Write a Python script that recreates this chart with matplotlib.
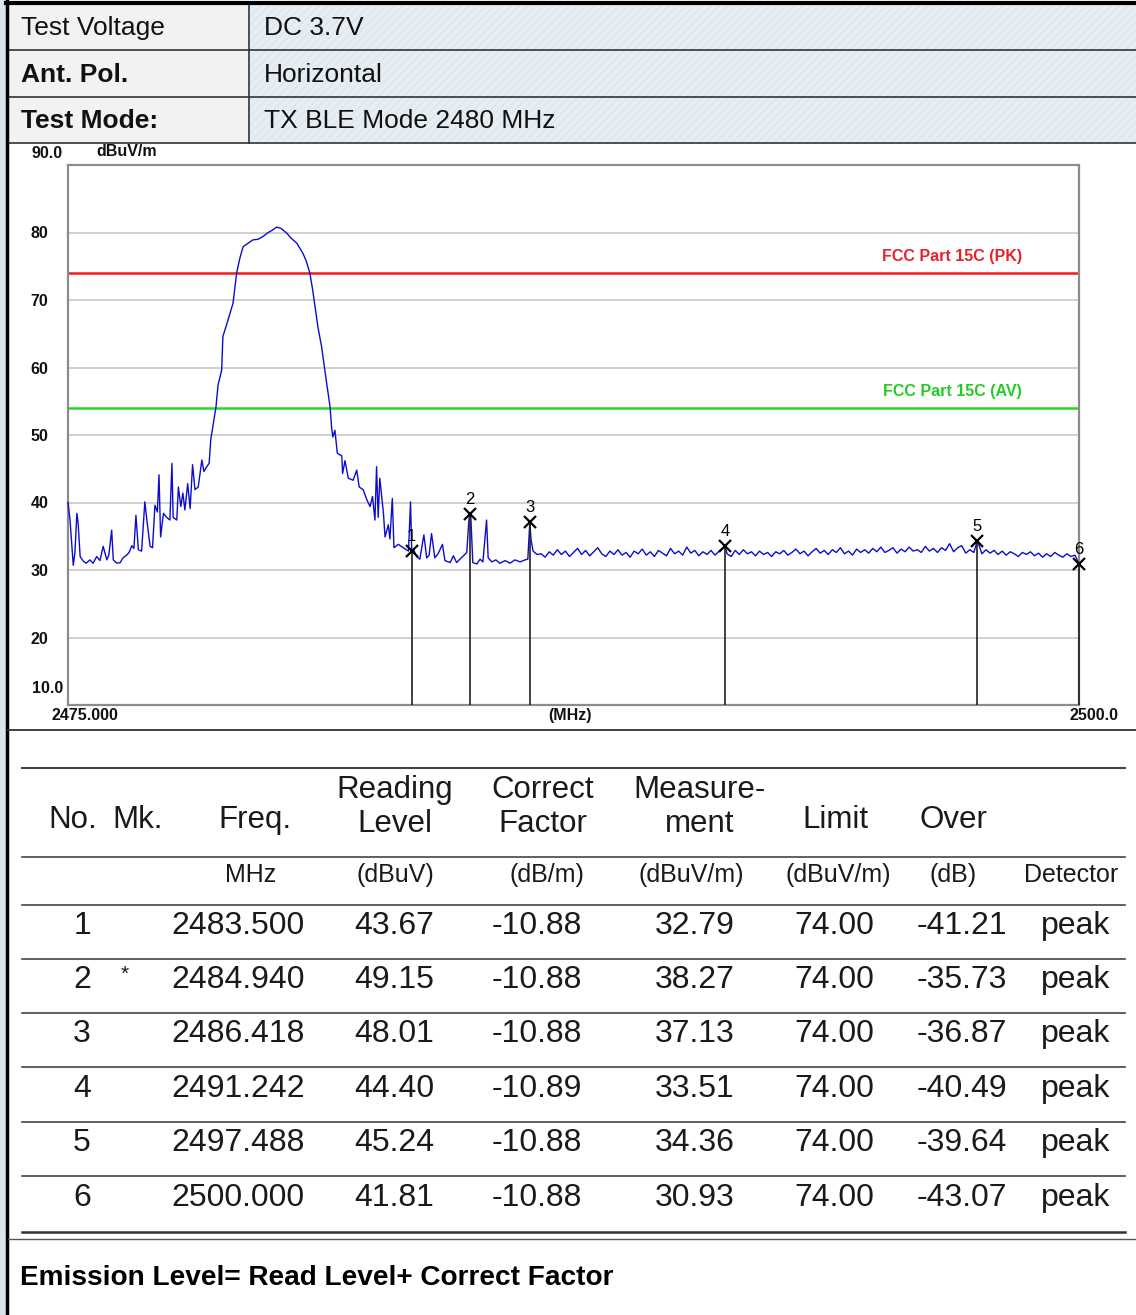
import matplotlib
matplotlib.use('Agg')
import matplotlib.pyplot as plt
from matplotlib.patches import Rectangle

plt.rcParams['font.family'] = ['Liberation Sans', 'DejaVu Sans']
plt.rcParams['hatch.linewidth'] = 0.6

W, H = 1136, 1315

# header block
info_labels = ['Test Voltage', 'Ant. Pol.', 'Test Mode:']
info_bold = [False, True, True]
info_values = ['DC 3.7V', 'Horizontal', 'TX BLE Mode 2480 MHz']

# spectrum trace (MHz / dBuV/m)
trace_freq = [
    2475.00, 2475.05, 2475.13, 2475.17, 2475.22, 2475.25, 2475.30, 2475.38, 2475.45, 2475.54,
    2475.62, 2475.71, 2475.79, 2475.87, 2475.96, 2476.01, 2476.08, 2476.12, 2476.21, 2476.29,
    2476.36, 2476.45, 2476.51, 2476.58, 2476.63, 2476.68, 2476.74, 2476.82, 2476.90, 2476.96,
    2477.03, 2477.09, 2477.15, 2477.21, 2477.25, 2477.29, 2477.36, 2477.44, 2477.52, 2477.57,
    2477.60, 2477.69, 2477.73, 2477.79, 2477.84, 2477.89, 2477.96, 2478.02, 2478.08, 2478.14,
    2478.22, 2478.31, 2478.36, 2478.43, 2478.49, 2478.53,
    2478.66, 2478.71, 2478.80, 2478.83, 2478.92, 2479.08, 2479.17, 2479.25, 2479.33, 2479.45,
    2479.57, 2479.70, 2479.82, 2479.95, 2480.04, 2480.16, 2480.27, 2480.41, 2480.51, 2480.66,
    2480.74, 2480.81, 2480.89, 2480.98, 2481.05, 2481.11, 2481.18, 2481.27, 2481.36, 2481.40,
    2481.48, 2481.52, 2481.55, 2481.60, 2481.66, 2481.77, 2481.79, 2481.85, 2481.93, 2482.05,
    2482.14, 2482.20, 2482.30, 2482.39, 2482.47, 2482.53, 2482.59, 2482.63, 2482.67, 2482.71,
    2482.80, 2482.84, 2482.92, 2482.96, 2483.02, 2483.06, 2483.17, 2483.29, 2483.42, 2483.47,
    2483.50, 2483.54, 2483.62, 2483.70, 2483.80, 2483.87, 2483.93, 2483.99, 2484.07, 2484.15,
    2484.26, 2484.32, 2484.45, 2484.53, 2484.61, 2484.69, 2484.78, 2484.86, 2484.92, 2484.94,
    2484.96, 2485.01, 2485.11, 2485.19, 2485.26, 2485.35, 2485.39, 2485.48, 2485.58, 2485.68,
    2485.81, 2485.93, 2486.05, 2486.18, 2486.30, 2486.37, 2486.42, 2486.45, 2486.50, 2486.60,
    2486.7, 2486.8, 2486.9, 2487.0, 2487.1, 2487.2, 2487.3, 2487.4, 2487.5, 2487.6,
    2487.7, 2487.8, 2487.9, 2488.0, 2488.1, 2488.2, 2488.3, 2488.4, 2488.5, 2488.6,
    2488.7, 2488.8, 2488.9, 2489.0, 2489.1, 2489.2, 2489.3, 2489.4, 2489.5, 2489.6,
    2489.7, 2489.8, 2489.9, 2490.0, 2490.1, 2490.2, 2490.3, 2490.4, 2490.5, 2490.6,
    2490.7, 2490.8, 2490.9, 2491.0, 2491.1, 2491.242, 2491.3, 2491.4, 2491.5, 2491.6,
    2491.7, 2491.8, 2491.9, 2492.0, 2492.1, 2492.2, 2492.3, 2492.4, 2492.5, 2492.6,
    2492.7, 2492.8, 2492.9, 2493.0, 2493.1, 2493.2, 2493.3, 2493.4, 2493.5, 2493.6,
    2493.7, 2493.8, 2493.9, 2494.0, 2494.1, 2494.2, 2494.3, 2494.4, 2494.5, 2494.6,
    2494.7, 2494.8, 2494.9, 2495.0, 2495.1, 2495.2, 2495.3, 2495.4, 2495.5, 2495.6,
    2495.7, 2495.8, 2495.9, 2496.0, 2496.1, 2496.2, 2496.3, 2496.4, 2496.5, 2496.6,
    2496.7, 2496.8, 2496.9, 2497.0, 2497.1, 2497.2, 2497.3, 2497.4, 2497.488, 2497.6,
    2497.7, 2497.8, 2497.9, 2498.0, 2498.1, 2498.2, 2498.3, 2498.4, 2498.5, 2498.6,
    2498.7, 2498.8, 2498.9, 2499.0, 2499.1, 2499.2, 2499.3, 2499.4, 2499.5, 2499.6,
    2499.7, 2499.8, 2499.9, 2500.0,
]
trace_level = [
    40.0, 37.4, 30.7, 32.5, 38.4, 37.0, 32.0, 31.3, 31.0, 31.5,
    31.0, 32.0, 31.4, 33.5, 31.5, 32.2, 35.9, 31.5, 31.0, 31.1,
    31.8, 32.2, 32.6, 33.6, 33.2, 38.1, 33.0, 32.8, 40.1, 36.9,
    33.5, 33.3, 39.6, 38.6, 44.1, 34.9, 38.4, 37.8, 37.4, 45.8,
    37.8, 37.4, 42.3, 39.4, 41.4, 38.9, 42.8, 39.1, 45.6, 41.9,
    42.3, 46.3, 44.6, 45.3, 45.8, 49.3,
    54.2, 57.4, 59.6, 64.6, 66.3, 69.5, 74.0, 76.2, 77.9, 78.4,
    78.9, 79.0, 79.4, 80.0, 80.3, 80.8, 80.6, 79.9, 79.2, 78.4,
    77.6, 76.9, 75.8, 74.0, 71.5, 69.0, 66.0, 63.1, 59.2, 57.5,
    54.2, 51.0, 49.7, 50.7, 47.3, 46.9, 44.3, 46.2, 43.6, 43.3,
    44.8, 42.3, 41.9, 40.4, 39.4, 40.9, 37.4, 45.3, 37.8, 43.6,
    38.4, 34.9, 36.7, 34.6, 40.6, 33.3, 33.8, 33.3, 32.8, 40.1,
    32.8, 33.1, 32.0, 31.6, 35.2, 31.8, 32.2, 35.4, 31.8, 32.4,
    33.8, 31.4, 31.1, 32.1, 31.1, 31.6, 32.1, 32.6, 37.9, 38.3,
    38.0, 31.1, 30.9, 31.6, 31.2, 37.4, 31.8, 31.2, 31.5, 31.0,
    31.4, 31.0, 31.5, 31.2, 31.5, 31.6, 37.1, 34.5, 32.8, 32.3,
    32.4, 31.9, 32.7, 32.2, 33.0, 32.3, 32.8, 32.0, 32.6, 33.2,
    32.3, 32.9, 32.1, 32.7, 33.3, 32.4, 32.0, 32.8, 32.3, 33.0,
    32.2, 32.6, 31.9, 32.8, 32.4, 33.1, 32.2, 32.7, 32.0, 32.9,
    32.5, 32.1, 33.2, 32.4, 32.8, 32.2, 33.4, 32.5, 32.9, 32.1,
    32.7, 32.3, 32.9, 32.2, 32.8, 33.51, 32.4, 32.0, 32.9, 32.3,
    33.0, 32.4, 32.7, 32.1, 32.8, 32.3, 32.6, 32.0, 32.7, 32.4,
    32.9, 32.2, 32.6, 33.1, 32.4, 32.8, 32.1, 32.7, 33.2, 32.5,
    32.9, 32.3, 33.0, 32.6, 33.3, 32.4, 32.8, 32.2, 33.1, 32.6,
    33.0, 32.5, 33.2, 32.7, 33.4, 32.6, 32.9, 33.3, 32.5, 33.1,
    32.7, 33.4, 32.8, 33.0, 32.6, 33.5, 32.8, 33.2, 32.6, 33.3,
    32.9, 33.9, 32.7, 33.3, 33.6, 32.5, 33.0, 32.6, 34.36, 32.4,
    33.0, 32.5, 32.9, 32.3, 32.8, 32.2, 32.7, 32.4, 32.0, 32.6,
    32.3, 32.7, 32.1, 32.5, 31.9, 32.4, 32.0, 32.6, 32.2, 31.9,
    32.4, 32.0, 32.2, 30.93,
]

limit_pk = 74.0
limit_av = 54.0
y_ticks = [20, 30, 40, 50, 60, 70, 80]

# marker table
mk_no = [1, 2, 3, 4, 5, 6]
mk_flag = ['', '*', '', '', '', '']
mk_freq = [2483.500, 2484.940, 2486.418, 2491.242, 2497.488, 2500.000]
mk_reading = [43.67, 49.15, 48.01, 44.40, 45.24, 41.81]
mk_correct = [-10.88, -10.88, -10.88, -10.89, -10.88, -10.88]
mk_measure = [32.79, 38.27, 37.13, 33.51, 34.36, 30.93]
mk_limit = [74.00, 74.00, 74.00, 74.00, 74.00, 74.00]
mk_over = [-41.21, -35.73, -36.87, -40.49, -39.64, -43.07]
mk_detector = ['peak', 'peak', 'peak', 'peak', 'peak', 'peak']

head_text = ['No.', 'Mk.', 'Freq.', 'Reading\nLevel', 'Correct\nFactor',
             'Measure-\nment', 'Limit', 'Over']
head_x = [73, 138, 255, 395, 543, 700, 835, 953]
unit_text = ['MHz', '(dBuV)', '(dB/m)', '(dBuV/m)', '(dBuV/m)', '(dB)', 'Detector']
unit_x = [251, 395, 547, 691, 838, 953, 1071]

fig = plt.figure(figsize=(W / 100, H / 100), dpi=100)
bg = fig.add_axes([0, 0, 1, 1])
bg.set_xlim(0, W)
bg.set_ylim(H, 0)
bg.axis('off')

bg.add_patch(Rectangle((0, 0), 6, H, facecolor='#d8e5ee', lw=0))

# header table
row_top = [4, 50, 97]
row_bot = [50, 97, 143]
for i in range(3):
    h = row_bot[i] - row_top[i]
    bg.add_patch(Rectangle((8, row_top[i]), 241, h, facecolor='#f2f2f2', lw=0))
    bg.add_patch(Rectangle((249, row_top[i]), W - 249, h, facecolor='#e6eef4',
                           hatch='////', edgecolor='#d6e2ea', lw=0))
    yc = (row_top[i] + row_bot[i]) / 2 + 1
    bg.text(21, yc, info_labels[i], fontsize=19, va='center',
            fontweight='bold' if info_bold[i] else 'normal', color='#111111')
    bg.text(264, yc, info_values[i], fontsize=19, va='center', color='#111111')
for y in row_bot:
    bg.plot([8, W], [y, y], color='#333333', lw=1.2)
bg.plot([249, 249], [4, 143], color='#333333', lw=1.2)
bg.plot([6, W], [2.5, 2.5], color='black', lw=3)
bg.plot([7, 7], [0, H], color='black', lw=2.5)
bg.plot([8, W], [730, 730], color='#333333', lw=1.3)

# plot labels drawn outside the axes
lab = dict(fontsize=11.5, fontweight='bold', color='#111111', va='center')
bg.text(63, 153, '90.0', ha='right', **lab)
bg.text(96, 151, 'dBuV/m', ha='left', **lab)
bg.text(63, 688, '10.0', ha='right', **lab)
bg.text(52, 715, '2475.000', ha='left', **lab)
bg.text(570, 715, '(MHz)', ha='center', **lab)
bg.text(1118, 715, '2500.0', ha='right', **lab)

# spectrum plot
ax = fig.add_axes([68 / W, 1 - 705 / H, 1011 / W, 540 / H])
ax.set_xlim(2475, 2500)
ax.set_ylim(10, 90)
ax.set_xticks([])
ax.set_yticks(y_ticks)
ax.set_yticklabels([str(v) for v in y_ticks], fontsize=11.5, fontweight='bold', color='#111111')
ax.tick_params(axis='y', length=0, pad=14)
ax.grid(axis='y', color='#c8c8c8', lw=1.2)
ax.set_axisbelow(True)
for s in ax.spines.values():
    s.set_color('#8c8c8c')
    s.set_linewidth(1.6)

ax.axhline(limit_pk, color='#ee1c1c', lw=1.8)
ax.axhline(limit_av, color='#22dd22', lw=1.8)
ax.text(2498.59, 76.5, 'FCC Part 15C (PK)', color='#e8202a', ha='right', va='center',
        fontsize=11.5, fontweight='bold')
ax.text(2498.59, 56.5, 'FCC Part 15C (AV)', color='#22cc22', ha='right', va='center',
        fontsize=11.5, fontweight='bold')

ax.plot(trace_freq, trace_level, color='#0c0cd0', lw=1.0, clip_on=False, zorder=3)

ax.vlines(mk_freq, 10, mk_measure, color='#202020', lw=1.2, zorder=4, clip_on=False)
ax.plot(mk_freq, mk_measure, 'x', color='black', ms=8, mew=1.6, clip_on=False, zorder=5)
for n, f, m in zip(mk_no, mk_freq, mk_measure):
    ax.annotate(str(n), (f, m), xytext=(0, 5), textcoords='offset points',
                ha='center', va='bottom', fontsize=12, color='black',
                annotation_clip=False, zorder=6)

# marker table
tc = '#1a1a1a'
bg.plot([22, 1125], [768, 768], color='#444444', lw=1.5)
for y in [857, 905, 959, 1013, 1067, 1122, 1176]:
    bg.plot([22, 1125], [y, y], color='#444444', lw=1.2)
bg.plot([22, 1125], [1232, 1232], color='#333333', lw=1.8)
bg.plot([8, W], [1239, 1239], color='#555555', lw=1.0)

for t, x in zip(head_text, head_x):
    yc = 807 if '\n' in t else 820
    bg.text(x, yc, t, fontsize=22.5, ha='center', va='center', ma='center',
            linespacing=1.18, color=tc)
for t, x in zip(unit_text, unit_x):
    bg.text(x, 875, t, fontsize=18, ha='center', va='center', color=tc)

row_y = [926, 980, 1034, 1089, 1143, 1198]
for i in range(len(mk_no)):
    y = row_y[i]
    cells = [(82, str(mk_no[i])), (238, '%.3f' % mk_freq[i]),
             (394, '%.2f' % mk_reading[i]), (537, '%.2f' % mk_correct[i]),
             (695, '%.2f' % mk_measure[i]), (834, '%.2f' % mk_limit[i]),
             (962, '%.2f' % mk_over[i]), (1076, mk_detector[i])]
    for x, t in cells:
        bg.text(x, y, t, fontsize=23, ha='center', va='center', color=tc)
    if mk_flag[i]:
        bg.text(125, y - 6, mk_flag[i], fontsize=15, ha='center', va='center', color=tc)

bg.text(20, 1278, 'Emission Level= Read Level+ Correct Factor', fontsize=20.2,
        fontweight='bold', va='center', color='black')

fig.savefig('out.png', dpi=100)
